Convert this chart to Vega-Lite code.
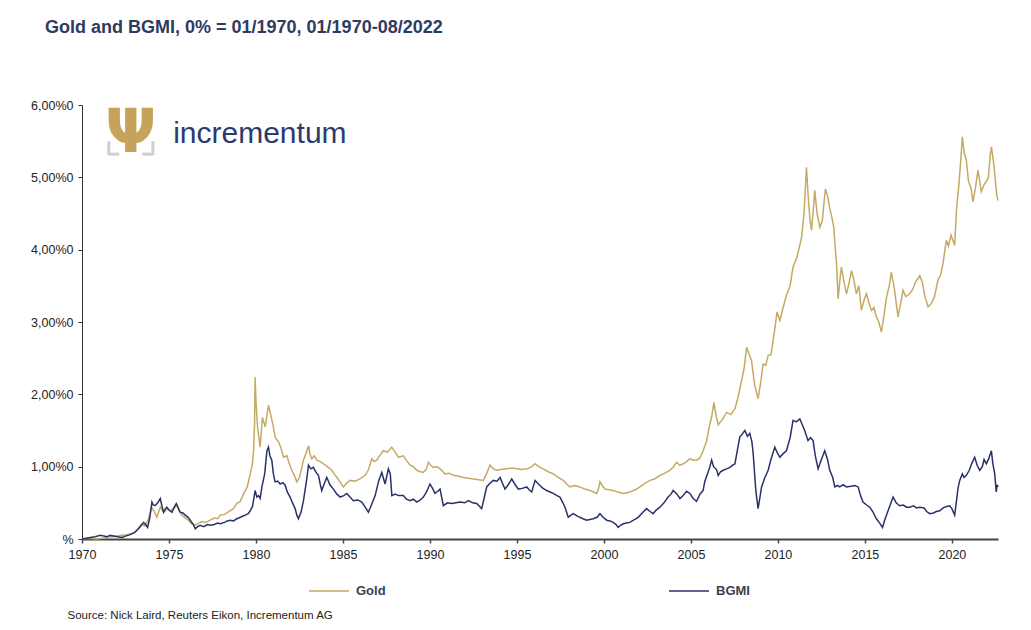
{
  "$schema": "https://vega.github.io/schema/vega-lite/v6.json",
  "width": 916,
  "height": 434,
  "autosize": "none",
  "padding": {"left": 82, "top": 105, "right": 33, "bottom": 91},
  "background": "white",
  "title": {
    "text": "Gold and BGMI, 0% = 01/1970, 01/1970-08/2022",
    "anchor": "start",
    "frame": "group",
    "dx": -37,
    "offset": 62,
    "fontSize": 18,
    "fontWeight": "bold",
    "color": "#2f3a5f",
    "font": "Liberation Sans"
  },
  "datasets": {
    "gold": [
      {"t": 1970.0, "v": 0}, {"t": 1970.4, "v": 0.01}, {"t": 1970.8, "v": 0.0}, {"t": 1971.2, "v": 0.01},
      {"t": 1971.5, "v": 0.03}, {"t": 1971.8, "v": 0.03}, {"t": 1972.2, "v": 0.05}, {"t": 1972.6, "v": 0.06},
      {"t": 1973.06, "v": 0.09}, {"t": 1973.3, "v": 0.17}, {"t": 1973.45, "v": 0.21}, {"t": 1973.6, "v": 0.18},
      {"t": 1973.8, "v": 0.26}, {"t": 1974.0, "v": 0.44}, {"t": 1974.15, "v": 0.38}, {"t": 1974.3, "v": 0.30},
      {"t": 1974.5, "v": 0.44}, {"t": 1974.7, "v": 0.37}, {"t": 1974.9, "v": 0.42}, {"t": 1975.07, "v": 0.39},
      {"t": 1975.25, "v": 0.42}, {"t": 1975.46, "v": 0.46}, {"t": 1975.6, "v": 0.38}, {"t": 1975.74, "v": 0.33},
      {"t": 1975.9, "v": 0.30}, {"t": 1976.1, "v": 0.26}, {"t": 1976.3, "v": 0.21}, {"t": 1976.5, "v": 0.19},
      {"t": 1976.7, "v": 0.22}, {"t": 1976.9, "v": 0.24}, {"t": 1977.1, "v": 0.23}, {"t": 1977.37, "v": 0.26},
      {"t": 1977.6, "v": 0.29}, {"t": 1977.8, "v": 0.28}, {"t": 1977.94, "v": 0.33}, {"t": 1978.2, "v": 0.34},
      {"t": 1978.5, "v": 0.39}, {"t": 1978.7, "v": 0.42}, {"t": 1978.9, "v": 0.49}, {"t": 1979.1, "v": 0.52},
      {"t": 1979.3, "v": 0.63}, {"t": 1979.5, "v": 0.72}, {"t": 1979.67, "v": 0.9}, {"t": 1979.8, "v": 1.05},
      {"t": 1979.86, "v": 1.22}, {"t": 1979.92, "v": 1.6}, {"t": 1979.95, "v": 2.24}, {"t": 1980.0, "v": 1.9},
      {"t": 1980.09, "v": 1.55}, {"t": 1980.24, "v": 1.27}, {"t": 1980.37, "v": 1.68}, {"t": 1980.53, "v": 1.55},
      {"t": 1980.72, "v": 1.85}, {"t": 1980.9, "v": 1.66}, {"t": 1981.0, "v": 1.55}, {"t": 1981.1, "v": 1.41},
      {"t": 1981.3, "v": 1.34}, {"t": 1981.45, "v": 1.25}, {"t": 1981.58, "v": 1.13}, {"t": 1981.78, "v": 1.15},
      {"t": 1981.9, "v": 1.05}, {"t": 1982.06, "v": 0.95}, {"t": 1982.2, "v": 0.88}, {"t": 1982.35, "v": 0.79},
      {"t": 1982.5, "v": 0.85}, {"t": 1982.73, "v": 1.09}, {"t": 1982.9, "v": 1.2}, {"t": 1983.02, "v": 1.29},
      {"t": 1983.1, "v": 1.18}, {"t": 1983.21, "v": 1.11}, {"t": 1983.35, "v": 1.15}, {"t": 1983.5, "v": 1.09},
      {"t": 1983.7, "v": 1.07}, {"t": 1983.88, "v": 1.04}, {"t": 1984.1, "v": 1.0}, {"t": 1984.36, "v": 0.95},
      {"t": 1984.5, "v": 0.9}, {"t": 1984.65, "v": 0.85}, {"t": 1984.85, "v": 0.78}, {"t": 1985.03, "v": 0.72},
      {"t": 1985.2, "v": 0.77}, {"t": 1985.41, "v": 0.81}, {"t": 1985.7, "v": 0.80}, {"t": 1985.98, "v": 0.83},
      {"t": 1986.27, "v": 0.88}, {"t": 1986.45, "v": 0.95}, {"t": 1986.66, "v": 1.11}, {"t": 1986.8, "v": 1.07},
      {"t": 1986.94, "v": 1.09}, {"t": 1987.1, "v": 1.15}, {"t": 1987.32, "v": 1.22}, {"t": 1987.55, "v": 1.2},
      {"t": 1987.8, "v": 1.27}, {"t": 1988.0, "v": 1.2}, {"t": 1988.19, "v": 1.13}, {"t": 1988.47, "v": 1.15},
      {"t": 1988.7, "v": 1.07}, {"t": 1988.86, "v": 1.02}, {"t": 1989.05, "v": 1.0}, {"t": 1989.24, "v": 0.95},
      {"t": 1989.45, "v": 0.93}, {"t": 1989.62, "v": 0.92}, {"t": 1989.8, "v": 0.97}, {"t": 1989.91, "v": 1.06},
      {"t": 1990.05, "v": 1.02}, {"t": 1990.2, "v": 0.99}, {"t": 1990.4, "v": 1.0}, {"t": 1990.58, "v": 0.97},
      {"t": 1990.87, "v": 0.90}, {"t": 1991.1, "v": 0.91}, {"t": 1991.34, "v": 0.88}, {"t": 1991.6, "v": 0.87},
      {"t": 1991.92, "v": 0.85}, {"t": 1992.2, "v": 0.84}, {"t": 1992.49, "v": 0.83}, {"t": 1992.8, "v": 0.82},
      {"t": 1993.07, "v": 0.81}, {"t": 1993.25, "v": 0.9}, {"t": 1993.45, "v": 1.02}, {"t": 1993.65, "v": 0.97},
      {"t": 1993.84, "v": 0.95}, {"t": 1994.1, "v": 0.96}, {"t": 1994.41, "v": 0.97}, {"t": 1994.7, "v": 0.98},
      {"t": 1994.99, "v": 0.97}, {"t": 1995.3, "v": 0.96}, {"t": 1995.56, "v": 0.97}, {"t": 1995.8, "v": 0.99},
      {"t": 1996.04, "v": 1.04}, {"t": 1996.25, "v": 1.0}, {"t": 1996.51, "v": 0.97}, {"t": 1996.8, "v": 0.93},
      {"t": 1997.09, "v": 0.90}, {"t": 1997.4, "v": 0.85}, {"t": 1997.66, "v": 0.81}, {"t": 1997.85, "v": 0.76},
      {"t": 1998.05, "v": 0.72}, {"t": 1998.3, "v": 0.74}, {"t": 1998.62, "v": 0.72}, {"t": 1998.9, "v": 0.69},
      {"t": 1999.2, "v": 0.67}, {"t": 1999.4, "v": 0.65}, {"t": 1999.58, "v": 0.63}, {"t": 1999.7, "v": 0.7},
      {"t": 1999.77, "v": 0.79}, {"t": 1999.9, "v": 0.74}, {"t": 2000.06, "v": 0.69}, {"t": 2000.3, "v": 0.68},
      {"t": 2000.53, "v": 0.67}, {"t": 2000.8, "v": 0.65}, {"t": 2001.11, "v": 0.63}, {"t": 2001.3, "v": 0.64},
      {"t": 2001.49, "v": 0.65}, {"t": 2001.8, "v": 0.68}, {"t": 2002.07, "v": 0.72}, {"t": 2002.35, "v": 0.77},
      {"t": 2002.64, "v": 0.81}, {"t": 2002.9, "v": 0.83}, {"t": 2003.22, "v": 0.88}, {"t": 2003.5, "v": 0.91},
      {"t": 2003.79, "v": 0.95}, {"t": 2004.0, "v": 1.0}, {"t": 2004.17, "v": 1.06}, {"t": 2004.37, "v": 1.02},
      {"t": 2004.56, "v": 1.04}, {"t": 2004.75, "v": 1.07}, {"t": 2004.94, "v": 1.11}, {"t": 2005.15, "v": 1.09},
      {"t": 2005.32, "v": 1.09}, {"t": 2005.52, "v": 1.12}, {"t": 2005.7, "v": 1.22}, {"t": 2005.9, "v": 1.35},
      {"t": 2006.05, "v": 1.55}, {"t": 2006.2, "v": 1.7}, {"t": 2006.32, "v": 1.89}, {"t": 2006.45, "v": 1.7},
      {"t": 2006.57, "v": 1.58}, {"t": 2006.8, "v": 1.65}, {"t": 2007.05, "v": 1.75}, {"t": 2007.3, "v": 1.72},
      {"t": 2007.53, "v": 1.80}, {"t": 2007.7, "v": 1.95}, {"t": 2007.91, "v": 2.19}, {"t": 2008.05, "v": 2.35},
      {"t": 2008.2, "v": 2.65}, {"t": 2008.35, "v": 2.55}, {"t": 2008.48, "v": 2.47}, {"t": 2008.67, "v": 2.12},
      {"t": 2008.86, "v": 1.94}, {"t": 2009.0, "v": 2.15}, {"t": 2009.15, "v": 2.42}, {"t": 2009.3, "v": 2.4},
      {"t": 2009.44, "v": 2.54}, {"t": 2009.6, "v": 2.55}, {"t": 2009.82, "v": 2.9}, {"t": 2009.95, "v": 3.14},
      {"t": 2010.11, "v": 3.02}, {"t": 2010.3, "v": 3.2}, {"t": 2010.49, "v": 3.37}, {"t": 2010.7, "v": 3.5},
      {"t": 2010.87, "v": 3.76}, {"t": 2011.1, "v": 3.9}, {"t": 2011.36, "v": 4.17}, {"t": 2011.5, "v": 4.5},
      {"t": 2011.64, "v": 5.14}, {"t": 2011.75, "v": 4.7}, {"t": 2011.85, "v": 4.4}, {"t": 2011.93, "v": 4.27},
      {"t": 2012.05, "v": 4.6}, {"t": 2012.12, "v": 4.82}, {"t": 2012.25, "v": 4.5}, {"t": 2012.41, "v": 4.31},
      {"t": 2012.55, "v": 4.4}, {"t": 2012.73, "v": 4.84}, {"t": 2012.85, "v": 4.75}, {"t": 2012.98, "v": 4.57},
      {"t": 2013.1, "v": 4.45}, {"t": 2013.21, "v": 4.31}, {"t": 2013.3, "v": 4.0}, {"t": 2013.37, "v": 3.81},
      {"t": 2013.46, "v": 3.32}, {"t": 2013.55, "v": 3.55}, {"t": 2013.65, "v": 3.76}, {"t": 2013.8, "v": 3.55},
      {"t": 2013.94, "v": 3.39}, {"t": 2014.1, "v": 3.55}, {"t": 2014.23, "v": 3.71}, {"t": 2014.35, "v": 3.6},
      {"t": 2014.51, "v": 3.39}, {"t": 2014.65, "v": 3.5}, {"t": 2014.8, "v": 3.16}, {"t": 2014.95, "v": 3.3},
      {"t": 2015.09, "v": 3.39}, {"t": 2015.25, "v": 3.25}, {"t": 2015.38, "v": 3.16}, {"t": 2015.52, "v": 3.2},
      {"t": 2015.66, "v": 3.07}, {"t": 2015.8, "v": 3.0}, {"t": 2015.95, "v": 2.86}, {"t": 2016.1, "v": 3.1},
      {"t": 2016.24, "v": 3.34}, {"t": 2016.4, "v": 3.5}, {"t": 2016.52, "v": 3.69}, {"t": 2016.7, "v": 3.45},
      {"t": 2016.9, "v": 3.07}, {"t": 2017.05, "v": 3.25}, {"t": 2017.19, "v": 3.44}, {"t": 2017.35, "v": 3.35},
      {"t": 2017.57, "v": 3.39}, {"t": 2017.75, "v": 3.45}, {"t": 2017.9, "v": 3.55}, {"t": 2018.15, "v": 3.64},
      {"t": 2018.3, "v": 3.55}, {"t": 2018.45, "v": 3.35}, {"t": 2018.63, "v": 3.21}, {"t": 2018.8, "v": 3.25},
      {"t": 2019.0, "v": 3.35}, {"t": 2019.2, "v": 3.58}, {"t": 2019.35, "v": 3.65}, {"t": 2019.49, "v": 3.81},
      {"t": 2019.6, "v": 4.0}, {"t": 2019.68, "v": 4.13}, {"t": 2019.8, "v": 4.05}, {"t": 2019.95, "v": 4.2},
      {"t": 2020.16, "v": 4.06}, {"t": 2020.26, "v": 4.54}, {"t": 2020.4, "v": 4.9}, {"t": 2020.5, "v": 5.2},
      {"t": 2020.6, "v": 5.56}, {"t": 2020.7, "v": 5.35}, {"t": 2020.83, "v": 5.24}, {"t": 2020.95, "v": 4.95},
      {"t": 2021.1, "v": 4.85}, {"t": 2021.21, "v": 4.66}, {"t": 2021.35, "v": 4.85}, {"t": 2021.5, "v": 5.10},
      {"t": 2021.6, "v": 4.95}, {"t": 2021.69, "v": 4.80}, {"t": 2021.85, "v": 4.9}, {"t": 2022.0, "v": 4.95},
      {"t": 2022.1, "v": 5.0}, {"t": 2022.2, "v": 5.3}, {"t": 2022.27, "v": 5.42}, {"t": 2022.4, "v": 5.2},
      {"t": 2022.5, "v": 4.95}, {"t": 2022.58, "v": 4.75}, {"t": 2022.65, "v": 4.68}
    ],
    "bgmi": [
      {"t": 1970.0, "v": 0}, {"t": 1970.25, "v": 0.01}, {"t": 1970.48, "v": 0.02}, {"t": 1970.75, "v": 0.03},
      {"t": 1971.05, "v": 0.05}, {"t": 1971.25, "v": 0.04}, {"t": 1971.44, "v": 0.03}, {"t": 1971.6, "v": 0.05},
      {"t": 1971.82, "v": 0.04}, {"t": 1972.05, "v": 0.03}, {"t": 1972.3, "v": 0.02}, {"t": 1972.5, "v": 0.04},
      {"t": 1972.77, "v": 0.06}, {"t": 1972.95, "v": 0.08}, {"t": 1973.16, "v": 0.12}, {"t": 1973.35, "v": 0.17},
      {"t": 1973.54, "v": 0.23}, {"t": 1973.65, "v": 0.2}, {"t": 1973.77, "v": 0.16}, {"t": 1973.9, "v": 0.3},
      {"t": 1974.02, "v": 0.51}, {"t": 1974.1, "v": 0.47}, {"t": 1974.2, "v": 0.46}, {"t": 1974.35, "v": 0.5},
      {"t": 1974.5, "v": 0.56}, {"t": 1974.6, "v": 0.45}, {"t": 1974.69, "v": 0.37}, {"t": 1974.8, "v": 0.42},
      {"t": 1974.88, "v": 0.44}, {"t": 1975.0, "v": 0.4}, {"t": 1975.17, "v": 0.37}, {"t": 1975.3, "v": 0.44},
      {"t": 1975.42, "v": 0.49}, {"t": 1975.55, "v": 0.42}, {"t": 1975.65, "v": 0.37}, {"t": 1975.8, "v": 0.36},
      {"t": 1975.93, "v": 0.33}, {"t": 1976.1, "v": 0.3}, {"t": 1976.22, "v": 0.26}, {"t": 1976.4, "v": 0.2},
      {"t": 1976.51, "v": 0.14}, {"t": 1976.65, "v": 0.17}, {"t": 1976.79, "v": 0.19}, {"t": 1977.0, "v": 0.17},
      {"t": 1977.2, "v": 0.2}, {"t": 1977.37, "v": 0.19}, {"t": 1977.6, "v": 0.2}, {"t": 1977.8, "v": 0.22},
      {"t": 1977.94, "v": 0.21}, {"t": 1978.2, "v": 0.23}, {"t": 1978.35, "v": 0.25}, {"t": 1978.52, "v": 0.26},
      {"t": 1978.7, "v": 0.25}, {"t": 1978.9, "v": 0.28}, {"t": 1979.1, "v": 0.3}, {"t": 1979.38, "v": 0.33},
      {"t": 1979.55, "v": 0.35}, {"t": 1979.67, "v": 0.39}, {"t": 1979.8, "v": 0.45}, {"t": 1979.95, "v": 0.67},
      {"t": 1980.05, "v": 0.58}, {"t": 1980.15, "v": 0.6}, {"t": 1980.24, "v": 0.56}, {"t": 1980.34, "v": 0.72},
      {"t": 1980.5, "v": 0.9}, {"t": 1980.63, "v": 1.22}, {"t": 1980.72, "v": 1.27}, {"t": 1980.8, "v": 1.15},
      {"t": 1980.91, "v": 1.09}, {"t": 1981.0, "v": 0.9}, {"t": 1981.1, "v": 0.79}, {"t": 1981.25, "v": 0.8},
      {"t": 1981.39, "v": 0.76}, {"t": 1981.55, "v": 0.78}, {"t": 1981.68, "v": 0.74}, {"t": 1981.8, "v": 0.65},
      {"t": 1981.96, "v": 0.58}, {"t": 1982.1, "v": 0.5}, {"t": 1982.25, "v": 0.42}, {"t": 1982.35, "v": 0.33},
      {"t": 1982.44, "v": 0.28}, {"t": 1982.6, "v": 0.38}, {"t": 1982.73, "v": 0.53}, {"t": 1982.9, "v": 0.8},
      {"t": 1983.02, "v": 1.02}, {"t": 1983.15, "v": 0.97}, {"t": 1983.3, "v": 0.99}, {"t": 1983.45, "v": 0.92},
      {"t": 1983.59, "v": 0.88}, {"t": 1983.7, "v": 0.75}, {"t": 1983.78, "v": 0.67}, {"t": 1983.9, "v": 0.75},
      {"t": 1984.07, "v": 0.85}, {"t": 1984.25, "v": 0.75}, {"t": 1984.45, "v": 0.69}, {"t": 1984.65, "v": 0.62},
      {"t": 1984.84, "v": 0.58}, {"t": 1985.05, "v": 0.6}, {"t": 1985.22, "v": 0.63}, {"t": 1985.4, "v": 0.58},
      {"t": 1985.6, "v": 0.53}, {"t": 1985.85, "v": 0.54}, {"t": 1986.08, "v": 0.51}, {"t": 1986.25, "v": 0.45},
      {"t": 1986.46, "v": 0.37}, {"t": 1986.6, "v": 0.45}, {"t": 1986.85, "v": 0.6}, {"t": 1987.05, "v": 0.8},
      {"t": 1987.23, "v": 0.92}, {"t": 1987.42, "v": 0.76}, {"t": 1987.61, "v": 0.97}, {"t": 1987.72, "v": 0.9},
      {"t": 1987.81, "v": 0.6}, {"t": 1988.0, "v": 0.62}, {"t": 1988.19, "v": 0.6}, {"t": 1988.47, "v": 0.6},
      {"t": 1988.65, "v": 0.55}, {"t": 1988.86, "v": 0.53}, {"t": 1989.05, "v": 0.55}, {"t": 1989.24, "v": 0.51},
      {"t": 1989.45, "v": 0.54}, {"t": 1989.62, "v": 0.58}, {"t": 1989.8, "v": 0.65}, {"t": 1990.0, "v": 0.76},
      {"t": 1990.15, "v": 0.7}, {"t": 1990.29, "v": 0.63}, {"t": 1990.45, "v": 0.66}, {"t": 1990.58, "v": 0.69},
      {"t": 1990.77, "v": 0.46}, {"t": 1991.0, "v": 0.5}, {"t": 1991.25, "v": 0.49}, {"t": 1991.5, "v": 0.5},
      {"t": 1991.73, "v": 0.51}, {"t": 1992.0, "v": 0.5}, {"t": 1992.21, "v": 0.53}, {"t": 1992.45, "v": 0.5},
      {"t": 1992.69, "v": 0.49}, {"t": 1992.97, "v": 0.42}, {"t": 1993.1, "v": 0.55}, {"t": 1993.26, "v": 0.72},
      {"t": 1993.45, "v": 0.77}, {"t": 1993.64, "v": 0.81}, {"t": 1993.85, "v": 0.8}, {"t": 1994.03, "v": 0.85},
      {"t": 1994.15, "v": 0.78}, {"t": 1994.31, "v": 0.69}, {"t": 1994.5, "v": 0.75}, {"t": 1994.7, "v": 0.83},
      {"t": 1994.9, "v": 0.75}, {"t": 1995.08, "v": 0.69}, {"t": 1995.3, "v": 0.7}, {"t": 1995.56, "v": 0.72},
      {"t": 1995.7, "v": 0.68}, {"t": 1995.85, "v": 0.65}, {"t": 1996.04, "v": 0.81}, {"t": 1996.15, "v": 0.78},
      {"t": 1996.32, "v": 0.74}, {"t": 1996.5, "v": 0.7}, {"t": 1996.71, "v": 0.67}, {"t": 1996.9, "v": 0.65},
      {"t": 1997.09, "v": 0.63}, {"t": 1997.3, "v": 0.6}, {"t": 1997.47, "v": 0.58}, {"t": 1997.6, "v": 0.52},
      {"t": 1997.76, "v": 0.44}, {"t": 1997.95, "v": 0.30}, {"t": 1998.1, "v": 0.33}, {"t": 1998.24, "v": 0.35},
      {"t": 1998.45, "v": 0.32}, {"t": 1998.62, "v": 0.30}, {"t": 1998.8, "v": 0.28}, {"t": 1999.0, "v": 0.26},
      {"t": 1999.2, "v": 0.27}, {"t": 1999.39, "v": 0.28}, {"t": 1999.6, "v": 0.3}, {"t": 1999.77, "v": 0.35},
      {"t": 1999.95, "v": 0.3}, {"t": 2000.16, "v": 0.26}, {"t": 2000.35, "v": 0.25}, {"t": 2000.53, "v": 0.23},
      {"t": 2000.7, "v": 0.2}, {"t": 2000.82, "v": 0.16}, {"t": 2000.95, "v": 0.19}, {"t": 2001.11, "v": 0.21},
      {"t": 2001.3, "v": 0.22}, {"t": 2001.49, "v": 0.23}, {"t": 2001.7, "v": 0.26}, {"t": 2001.97, "v": 0.30},
      {"t": 2002.2, "v": 0.36}, {"t": 2002.45, "v": 0.42}, {"t": 2002.65, "v": 0.38}, {"t": 2002.83, "v": 0.35},
      {"t": 2003.0, "v": 0.4}, {"t": 2003.22, "v": 0.44}, {"t": 2003.45, "v": 0.5}, {"t": 2003.69, "v": 0.58},
      {"t": 2003.85, "v": 0.62}, {"t": 2003.98, "v": 0.67}, {"t": 2004.2, "v": 0.62}, {"t": 2004.37, "v": 0.56},
      {"t": 2004.55, "v": 0.6}, {"t": 2004.75, "v": 0.66}, {"t": 2004.94, "v": 0.63}, {"t": 2005.13, "v": 0.56},
      {"t": 2005.32, "v": 0.52}, {"t": 2005.52, "v": 0.62}, {"t": 2005.7, "v": 0.67}, {"t": 2005.8, "v": 0.8},
      {"t": 2005.95, "v": 0.9}, {"t": 2006.08, "v": 0.99}, {"t": 2006.19, "v": 1.09}, {"t": 2006.3, "v": 1.0},
      {"t": 2006.47, "v": 0.96}, {"t": 2006.57, "v": 0.88}, {"t": 2006.7, "v": 0.93}, {"t": 2006.85, "v": 0.95},
      {"t": 2007.05, "v": 0.97}, {"t": 2007.24, "v": 0.99}, {"t": 2007.4, "v": 1.02}, {"t": 2007.53, "v": 1.04},
      {"t": 2007.65, "v": 1.2}, {"t": 2007.81, "v": 1.41}, {"t": 2007.95, "v": 1.45}, {"t": 2008.1, "v": 1.5},
      {"t": 2008.25, "v": 1.42}, {"t": 2008.38, "v": 1.46}, {"t": 2008.5, "v": 1.35}, {"t": 2008.58, "v": 1.18},
      {"t": 2008.66, "v": 0.9}, {"t": 2008.73, "v": 0.67}, {"t": 2008.86, "v": 0.42}, {"t": 2008.95, "v": 0.55},
      {"t": 2009.06, "v": 0.72}, {"t": 2009.25, "v": 0.85}, {"t": 2009.44, "v": 0.95}, {"t": 2009.6, "v": 1.1},
      {"t": 2009.82, "v": 1.27}, {"t": 2009.95, "v": 1.2}, {"t": 2010.11, "v": 1.13}, {"t": 2010.3, "v": 1.18},
      {"t": 2010.49, "v": 1.22}, {"t": 2010.7, "v": 1.4}, {"t": 2010.87, "v": 1.64}, {"t": 2011.05, "v": 1.62},
      {"t": 2011.26, "v": 1.66}, {"t": 2011.4, "v": 1.58}, {"t": 2011.54, "v": 1.5}, {"t": 2011.73, "v": 1.36},
      {"t": 2011.88, "v": 1.4}, {"t": 2012.02, "v": 1.36}, {"t": 2012.15, "v": 1.15}, {"t": 2012.31, "v": 0.97},
      {"t": 2012.5, "v": 1.1}, {"t": 2012.69, "v": 1.22}, {"t": 2012.85, "v": 1.1}, {"t": 2012.98, "v": 0.95},
      {"t": 2013.15, "v": 0.85}, {"t": 2013.27, "v": 0.72}, {"t": 2013.42, "v": 0.74}, {"t": 2013.55, "v": 0.72},
      {"t": 2013.75, "v": 0.75}, {"t": 2013.94, "v": 0.72}, {"t": 2014.2, "v": 0.73}, {"t": 2014.42, "v": 0.74},
      {"t": 2014.61, "v": 0.72}, {"t": 2014.75, "v": 0.6}, {"t": 2014.89, "v": 0.51}, {"t": 2015.1, "v": 0.47},
      {"t": 2015.28, "v": 0.44}, {"t": 2015.45, "v": 0.38}, {"t": 2015.66, "v": 0.28}, {"t": 2015.85, "v": 0.22},
      {"t": 2016.01, "v": 0.16}, {"t": 2016.15, "v": 0.27}, {"t": 2016.33, "v": 0.39}, {"t": 2016.5, "v": 0.5},
      {"t": 2016.62, "v": 0.58}, {"t": 2016.8, "v": 0.5}, {"t": 2017.0, "v": 0.46}, {"t": 2017.2, "v": 0.47},
      {"t": 2017.4, "v": 0.44}, {"t": 2017.57, "v": 0.44}, {"t": 2017.8, "v": 0.46}, {"t": 2017.95, "v": 0.43},
      {"t": 2018.15, "v": 0.44}, {"t": 2018.4, "v": 0.43}, {"t": 2018.55, "v": 0.38}, {"t": 2018.72, "v": 0.35},
      {"t": 2018.95, "v": 0.36}, {"t": 2019.1, "v": 0.38}, {"t": 2019.3, "v": 0.39}, {"t": 2019.5, "v": 0.43},
      {"t": 2019.7, "v": 0.45}, {"t": 2019.87, "v": 0.46}, {"t": 2020.0, "v": 0.42}, {"t": 2020.16, "v": 0.33},
      {"t": 2020.25, "v": 0.5}, {"t": 2020.35, "v": 0.7}, {"t": 2020.45, "v": 0.81}, {"t": 2020.6, "v": 0.9},
      {"t": 2020.7, "v": 0.85}, {"t": 2020.83, "v": 0.88}, {"t": 2021.0, "v": 0.95}, {"t": 2021.15, "v": 1.05},
      {"t": 2021.31, "v": 1.13}, {"t": 2021.45, "v": 1.02}, {"t": 2021.6, "v": 0.95}, {"t": 2021.75, "v": 1.0},
      {"t": 2021.85, "v": 1.1}, {"t": 2021.98, "v": 1.04}, {"t": 2022.1, "v": 1.1}, {"t": 2022.27, "v": 1.22},
      {"t": 2022.35, "v": 1.05}, {"t": 2022.46, "v": 0.90}, {"t": 2022.55, "v": 0.65}, {"t": 2022.6, "v": 0.75},
      {"t": 2022.65, "v": 0.72}
    ]
  },
  "layer": [
    {
      "data": {"name": "gold"},
      "mark": {"type": "line", "strokeWidth": 1.5},
      "encoding": {
        "x": {
          "field": "t",
          "type": "quantitative",
          "scale": {"domain": [1970, 2022.65], "nice": false, "zero": false},
          "axis": {
            "values": [1970, 1975, 1980, 1985, 1990, 1995, 2000, 2005, 2010, 2015, 2020],
            "format": "d",
            "grid": false,
            "labelFlush": false,
            "domainColor": "#444",
            "domainWidth": 2,
            "tickColor": "#444",
            "tickWidth": 1.5,
            "tickSize": 4,
            "labelFontSize": 12.5,
            "labelColor": "#222",
            "labelPadding": 5,
            "title": "Source: Nick Laird, Reuters Eikon, Incrementum AG",
            "titleFontSize": 11.5,
            "titleFontWeight": "normal",
            "titleColor": "#222",
            "titleAnchor": "start",
            "titleAlign": "left",
            "titleBaseline": "alphabetic",
            "titleX": -15,
            "titleY": 79
          }
        },
        "y": {
          "field": "v",
          "type": "quantitative",
          "scale": {"domain": [0, 6], "nice": false},
          "axis": {
            "values": [0, 1, 2, 3, 4, 5, 6],
            "labelExpr": "datum.value == 0 ? '%' : replace(format(datum.value, '.2f'), '.', ',') + '%0'",
            "grid": false,
            "labelFlush": false,
            "domainColor": "#333",
            "domainWidth": 1,
            "tickColor": "#333",
            "tickSize": 4,
            "labelFontSize": 12.5,
            "labelColor": "#222",
            "labelPadding": 5,
            "title": null
          }
        },
        "color": {
          "datum": "Gold",
          "type": "nominal",
          "scale": {"domain": ["Gold", "BGMI"], "range": ["#c6a965", "#28316a"]},
          "legend": {
            "orient": "none",
            "legendX": 226,
            "legendY": 465,
            "direction": "horizontal",
            "columns": 2,
            "columnPadding": 280,
            "padding": 0,
            "symbolType": "stroke",
            "symbolSize": 1600,
            "symbolStrokeWidth": 1.5,
            "labelFontSize": 13,
            "labelFontWeight": "bold",
            "labelColor": "#3a4152",
            "labelOffset": 6,
            "title": null
          }
        }
      }
    },
    {
      "data": {"name": "bgmi"},
      "mark": {"type": "line", "strokeWidth": 1.5},
      "encoding": {
        "x": {"field": "t", "type": "quantitative"},
        "y": {"field": "v", "type": "quantitative"},
        "color": {"datum": "BGMI", "type": "nominal"}
      }
    },
    {
      "data": {"values": [{"name": "incrementum"}]},
      "mark": {"type": "text", "align": "left", "baseline": "alphabetic", "fontSize": 30, "font": "Liberation Sans", "color": "#2d3a6b"},
      "encoding": {
        "x": {"datum": 1975.24, "type": "quantitative"},
        "y": {"datum": 5.47, "type": "quantitative"},
        "text": {"field": "name"}
      }
    },
    {
      "data": {"values": [{"glyph": "Ψ"}]},
      "mark": {"type": "text", "align": "center", "baseline": "alphabetic", "fontSize": 60, "fontWeight": "bold", "font": "DejaVu Sans", "color": "#c5a35a"},
      "encoding": {
        "x": {"datum": 1972.8, "type": "quantitative"},
        "y": {"datum": 5.35, "type": "quantitative"},
        "text": {"field": "glyph"}
      }
    },
    {
      "data": {"values": [{"side": "left"}]},
      "mark": {"type": "rule", "color": "#cfcfcf", "strokeWidth": 3},
      "encoding": {
        "x": {"datum": 1971.54, "type": "quantitative"},
        "y": {"datum": 5.5, "type": "quantitative"},
        "y2": {"datum": 5.31}
      }
    },
    {
      "data": {"values": [{"side": "left"}]},
      "mark": {"type": "rule", "color": "#cfcfcf", "strokeWidth": 3},
      "encoding": {
        "x": {"datum": 1971.54, "type": "quantitative"},
        "x2": {"datum": 1972.14},
        "y": {"datum": 5.32, "type": "quantitative"}
      }
    },
    {
      "data": {"values": [{"side": "right"}]},
      "mark": {"type": "rule", "color": "#cfcfcf", "strokeWidth": 3},
      "encoding": {
        "x": {"datum": 1974.07, "type": "quantitative"},
        "y": {"datum": 5.5, "type": "quantitative"},
        "y2": {"datum": 5.31}
      }
    },
    {
      "data": {"values": [{"side": "right"}]},
      "mark": {"type": "rule", "color": "#cfcfcf", "strokeWidth": 3},
      "encoding": {
        "x": {"datum": 1973.46, "type": "quantitative"},
        "x2": {"datum": 1974.07},
        "y": {"datum": 5.32, "type": "quantitative"}
      }
    }
  ],
  "config": {
    "view": {"stroke": null},
    "font": "Liberation Sans"
  }
}
